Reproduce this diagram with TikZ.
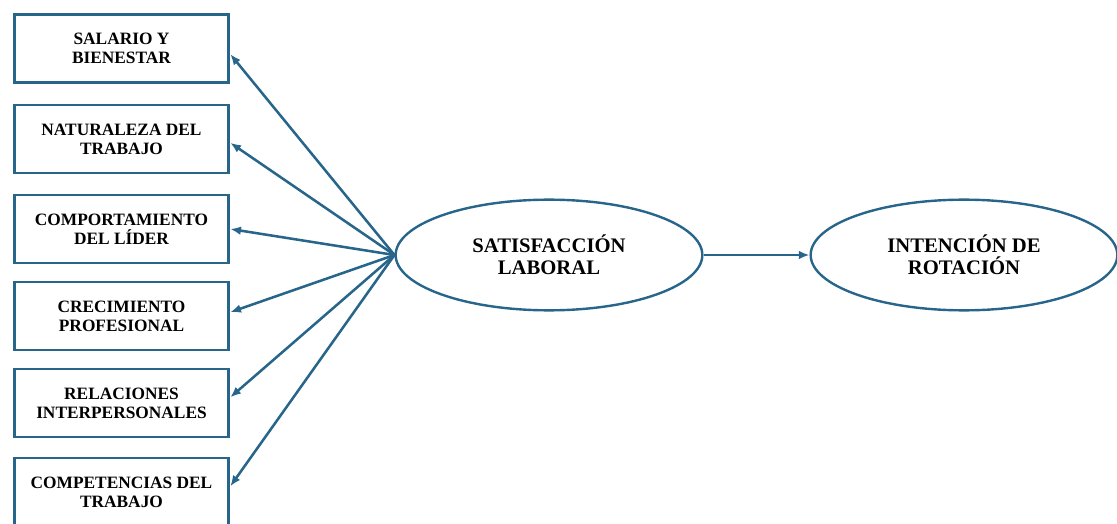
\documentclass[tikz,border=0pt]{standalone}
\usepackage{fontspec}
\setmainfont{Liberation Serif}
\usepackage{tikz}
\usetikzlibrary{shapes.geometric}
\usetikzlibrary{arrows.meta,positioning}
\definecolor{azul}{HTML}{27658A}

\begin{document}
\begin{tikzpicture}[x=0.75pt,y=-0.75pt,line width=1.9pt,
  factor/.style={rectangle,draw=azul,line width=2.2pt,minimum width=161pt,minimum height=51pt,
    font=\fontsize{13}{14.3}\selectfont\bfseries},
  constructo/.style={ellipse,draw=azul,line width=1.8pt,minimum width=230pt,minimum height=83pt,
    font=\fontsize{15.5}{16.2}\selectfont\bfseries},
  flecha/.style={draw=azul,-{Latex[length=8pt,width=6.5pt]}}]
\useasboundingbox (0,0) rectangle (1117,524);
\begin{scope}[align=center]
\node[factor] (salario) at (121.5,48.5) {SALARIO Y\\BIENESTAR}; %%
\node[factor] (naturaleza) at (121.5,139) {NATURALEZA DEL\\TRABAJO}; %%
\node[factor] (lider) at (121.5,229) {COMPORTAMIENTO\\DEL LÍDER}; %%
\node[factor] (crecimiento) at (121.5,316) {CRECIMIENTO\\PROFESIONAL}; %%
\node[factor] (relaciones) at (121.5,403) {RELACIONES\\INTERPERSONALES}; %%
\node[factor] (competencias) at (121.5,492) {COMPETENCIAS DEL\\TRABAJO}; %%
\node[constructo] (satisf) at (549,255) {SATISFACCIÓN\\LABORAL}; %%
\node[constructo] (rotacion) at (964,255) {INTENCIÓN DE\\ROTACIÓN};
\end{scope}
%% flechas hacia las dimensiones
\draw[flecha] (satisf.west)--(salario.-3); %%
\draw[flecha] (satisf.west)--(naturaleza.-2); %%
\draw[flecha] (satisf.west)--(lider.east); %%
\draw[flecha] (satisf.west)--(crecimiento.2); %%
\draw[flecha] (satisf.west)--(relaciones.3); %%
\draw[flecha] (satisf.west)--(competencias.3); %%
\draw[flecha] (satisf.east)--(rotacion.west);
\end{tikzpicture}
\end{document}
